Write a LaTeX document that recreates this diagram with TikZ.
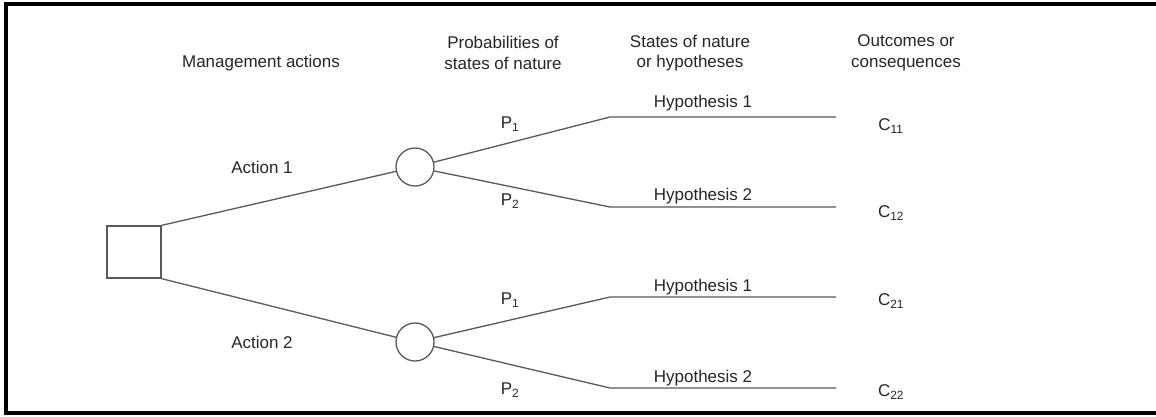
\documentclass[tikz,border=0pt]{standalone}
\usepackage{fontspec}
\setmainfont{Liberation Sans}
\begin{document}
\begin{tikzpicture}[x=1pt,y=-1pt,
  lbl/.style={inner sep=0pt,font=\fontsize{17}{20.5}\selectfont,text=black!85,align=center},
  conn/.style={draw=black!65,line width=1.3pt},
  decbox/.style={draw=black!65,line width=1.3pt,minimum width=54pt,minimum height=52pt,inner sep=0pt},
  chance/.style={circle,draw=black!65,line width=1.3pt,minimum size=38pt,inner sep=0pt}]
\useasboundingbox (0,0) rectangle (1156,416);
\fill[white] (0,0) rectangle (1156,416);
\draw[line width=4.5pt] (1156,4) -- (6,4) -- (6,413) -- (1156,413);
% headers
\node[lbl] (h1) at (261,63) {Management actions};
\node[lbl] (h2) at (503,53) {Probabilities of\\states of nature};
\node[lbl] (h3) at (690,53) {States of nature\\or hypotheses};
\node[lbl] (h4) at (906,53) {Outcomes or\\consequences};
% nodes
\node[decbox] (sq) at (134,252) {};
\node[chance] (c1) at (415,167) {};
\node[chance] (c2) at (415,342) {};
\coordinate (b11) at (610,117);
\coordinate (b12) at (610,207);
\coordinate (b21) at (610,297);
\coordinate (b22) at (610,388);
\coordinate (e11) at (836,117);
\coordinate (e12) at (836,207);
\coordinate (e21) at (836,297);
\coordinate (e22) at (836,388);
% connectors
\draw[conn] (sq.north east) -- (c1);
\draw[conn] (sq.south east) -- (c2);
\draw[conn] (c1) -- (b11) -- (e11);
\draw[conn] (c1) -- (b12) -- (e12);
\draw[conn] (c2) -- (b21) -- (e21);
\draw[conn] (c2) -- (b22) -- (e22);
% labels
\node[lbl] (a1) at (262,167) {Action 1};
\node[lbl] (a2) at (262,342) {Action 2};
\node[lbl] (p11) at (510,124) {P\textsubscript{1}};
\node[lbl] (p12) at (510,201) {P\textsubscript{2}};
\node[lbl] (p21) at (510,300) {P\textsubscript{1}};
\node[lbl] (p22) at (510,390) {P\textsubscript{2}};
\node[lbl] (hy11) at (703,103) {Hypothesis 1};
\node[lbl] (hy12) at (703,196) {Hypothesis 2};
\node[lbl] (hy21) at (703,287) {Hypothesis 1};
\node[lbl] (hy22) at (703,378) {Hypothesis 2};
\node[lbl] (o11) at (891,126) {C\textsubscript{11}};
\node[lbl] (o12) at (891,213) {C\textsubscript{12}};
\node[lbl] (o21) at (891,301) {C\textsubscript{21}};
\node[lbl] (o22) at (891,392) {C\textsubscript{22}};
\end{tikzpicture}
\end{document}
